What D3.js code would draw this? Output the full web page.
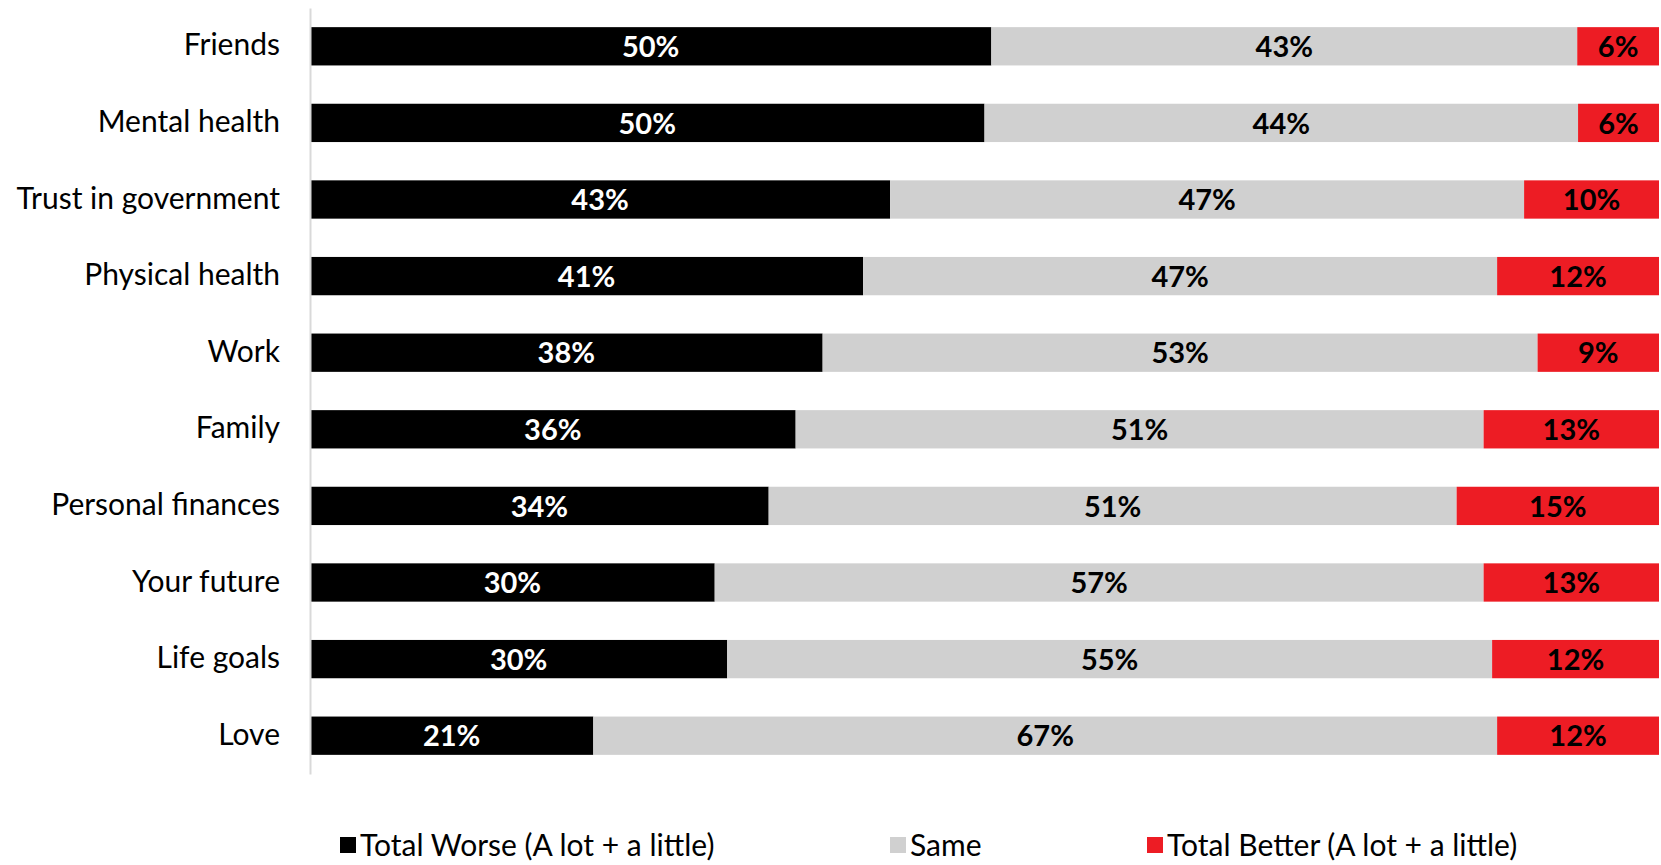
<!DOCTYPE html>
<html>
<head>
<meta charset="utf-8">
<script src="https://cdn.jsdelivr.net/npm/d3@7"></script>
<style>
  body { margin: 0; background: #fff; }
  svg { display: block; font-family: Lato, "Open Sans", sans-serif; }
</style>
</head>
<body>
<script>
// data
const categories = ["Friends", "Mental health", "Trust in government", "Physical health", "Work",
  "Family", "Personal finances", "Your future", "Life goals", "Love"];
const worse = [50, 50, 43, 41, 38, 36, 34, 30, 30, 21];
const same = [43, 44, 47, 47, 53, 51, 51, 57, 55, 67];
const better = [6, 6, 10, 12, 9, 13, 15, 13, 12, 12];
const seriesNames = ["Total Worse (A lot + a little)", "Same", "Total Better (A lot + a little)"];
const seriesKeys = ["worse", "same", "better"];
const colors = ["#000000", "#d0d0d0", "#ed1c24"];
const labelColors = ["#ffffff", "#000000", "#000000"];

const width = 1661, height = 865;
const margin = {top: 8, right: 2, bottom: 91, left: 310};

const rows = categories.map((c, i) => ({cat: c, worse: worse[i], same: same[i], better: better[i]}));
// 100% stacked: each row normalised to its own total
const stack = d3.stack().keys(seriesKeys).offset(d3.stackOffsetExpand);
const series = stack(rows);

const x = d3.scaleLinear().domain([0, 1]).range([margin.left, width - margin.right]);
const y = d3.scaleBand().domain(categories).range([margin.top, height - margin.bottom]).paddingInner(0.5).paddingOuter(0.25);

const svg = d3.select("body").append("svg").attr("width", width).attr("height", height);

svg.append("g").selectAll("g")
  .data(series)
  .join("g")
    .attr("fill", (d, i) => colors[i])
  .selectAll("rect")
  .data(d => d)
  .join("rect")
    .attr("x", d => x(d[0]))
    .attr("y", d => y(d.data.cat))
    .attr("width", d => x(d[1]) - x(d[0]))
    .attr("height", y.bandwidth());

// value labels
svg.append("g").selectAll("g")
  .data(series)
  .join("g")
    .attr("fill", (d, i) => labelColors[i])
    .attr("font-weight", "bold")
    .attr("font-size", 29)
    .attr("text-anchor", "middle")
  .selectAll("text")
  .data(d => d.map(v => ({v, key: d.key})))
  .join("text")
    .attr("x", d => (x(d.v[0]) + x(d.v[1])) / 2)
    .attr("y", d => y(d.v.data.cat) + y.bandwidth() / 2)
    .attr("dy", "0.37em")
    .text(d => d.v.data[d.key] + "%");

// category axis
const yAxis = svg.append("g")
  .attr("transform", `translate(${margin.left},0)`)
  .call(d3.axisLeft(y).tickSize(0).tickPadding(30));
yAxis.select(".domain").attr("stroke", "#d9d9d9").attr("stroke-width", 2);
yAxis.selectAll("text")
  .attr("font-family", "Lato, sans-serif")
  .attr("font-size", 30)
  .attr("fill", "#000")
  .attr("dy", "0.3em");

// legend
const legendX = [340, 890, 1147];
const legend = svg.append("g").selectAll("g")
  .data(seriesNames)
  .join("g")
    .attr("transform", (d, i) => `translate(${legendX[i]},845)`);
legend.append("rect")
  .attr("y", -8).attr("width", 16).attr("height", 16)
  .attr("fill", (d, i) => colors[i]);
legend.append("text")
  .attr("x", 20)
  .attr("dy", "0.36em")
  .attr("font-size", 30)
  .text(d => d);
</script>
</body>
</html>
